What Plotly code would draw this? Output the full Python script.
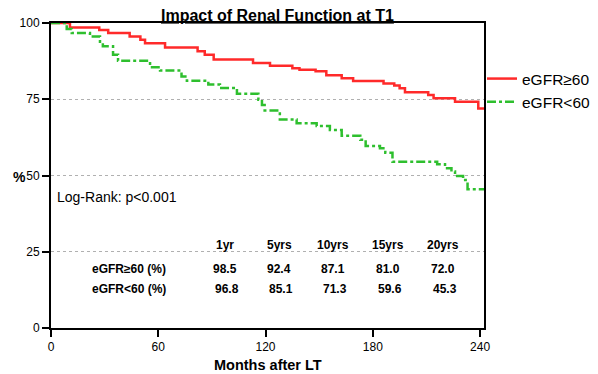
import plotly.graph_objects as go

# ---- data ----
red_name = "eGFR≥60"
red_months = [0, 10.6, 27, 32, 44, 50, 52.6, 63.8, 82, 86, 91, 113, 122.5, 135, 139, 148, 154,
              162.6, 169, 186, 192, 195, 198, 211, 214, 226, 239, 242.2]
red_surv = [100, 98.5, 97.7, 96.7, 95.6, 94.5, 93.4, 92.0, 90.7, 89.6, 88.0, 86.9, 86.0, 85.2, 84.7,
            84.2, 82.9, 81.9, 81.0, 80.2, 79.5, 78.6, 77.3, 76.4, 75.3, 74.2, 72.0, 72.0]

green_name = "eGFR<60"
green_months = [0, 8.8, 11.6, 21.8, 27.4, 29, 34.7, 37.5, 55.4, 61, 73, 76, 88, 94.5, 104, 116, 118,
                119.5, 128, 137.4, 148.6, 156, 162.6, 173, 176, 184, 187, 191, 216, 220.4, 224, 226,
                230.5, 233, 242.2]
green_surv = [100, 98.0, 96.7, 95.6, 93.4, 92.4, 89.6, 87.6, 85.5, 84.4, 82.5, 81.1, 79.8, 78.7, 76.8,
              74.8, 73.1, 71.3, 68.4, 67.1, 66.2, 64.9, 63.0, 61.7, 59.7, 58.9, 57.5, 54.5, 53.7, 52.4,
              51.3, 49.8, 48.5, 45.5, 45.5]

x_ticks = [0, 60, 120, 180, 240]
y_ticks = [0, 25, 50, 75, 100]

table_headers = ["1yr", "5yrs", "10yrs", "15yrs", "20yrs"]
table_row_labels = ["eGFR≥60 (%)", "eGFR<60 (%)"]
table_red = ["98.5", "92.4", "87.1", "81.0", "72.0"]
table_green = ["96.8", "85.1", "71.3", "59.6", "45.3"]

# ---- layout helpers (pixel -> paper of plot area) ----
L, R, T, B = 51, 484, 23, 328
W, H = 598, 374


def px(x):
    return (x - L) / (R - L)


def py(y):
    return (B - y) / (B - T)


fig = go.Figure()
fig.add_trace(go.Scatter(x=red_months, y=red_surv, mode="lines", name=red_name,
                         line=dict(color="#ff2a2a", width=2.5, shape="hv")))
fig.add_trace(go.Scatter(x=green_months, y=green_surv, mode="lines", name=green_name,
                         line=dict(color="#2ebf2e", width=2.5, shape="hv", dash="dashdot")))

fig.update_layout(
    width=W, height=H,
    margin=dict(l=L, r=W - R, t=T, b=H - B, autoexpand=False),
    plot_bgcolor="white", paper_bgcolor="white",
    font=dict(family="Arial", color="black", size=12),
    showlegend=True,
    legend=dict(xref="container", yref="container", x=482 / W, y=1 - 62 / H,
                xanchor="left", yanchor="top",
                font=dict(size=15.5), bgcolor="rgba(0,0,0,0)", tracegroupgap=0),
)
fig.update_xaxes(range=[0, 242.2], tickvals=x_ticks, ticks="outside", ticklen=7, tickwidth=1.5,
                 tickcolor="black", showline=True, linewidth=2, linecolor="black", mirror=True,
                 showgrid=False, zeroline=False, tickfont=dict(size=12))
fig.update_yaxes(range=[0, 100], tickvals=y_ticks, ticks="outside", ticklen=7, tickwidth=1.5,
                 tickcolor="black", showline=True, linewidth=2, linecolor="black", mirror=True,
                 showgrid=True, gridcolor="#b0b0b0", gridwidth=1, griddash="dot",
                 zeroline=False, tickfont=dict(size=12))

ann = []
ann.append(dict(x=px(277), y=py(15), text="<b>Impact of Renal Function at T1</b>",
                font=dict(size=16, lineposition="under")))
ann.append(dict(x=px(268), y=py(365), text="<b>Months after LT</b>", font=dict(size=14.5)))
ann.append(dict(x=px(19), y=py(177), text="<b>%</b>", font=dict(size=14)))
ann.append(dict(x=px(55), y=py(197), text="Log-Rank: p<0.001", xanchor="left", font=dict(size=14)))

col_x = [225, 279, 333, 388, 443]
for cx, h in zip(col_x, table_headers):
    ann.append(dict(x=px(cx), y=py(245), text=f"<b>{h}</b>", font=dict(size=12)))
ann.append(dict(x=px(168), y=py(269), text=f"<b>{table_row_labels[0]}</b>", xanchor="right",
                font=dict(size=12)))
ann.append(dict(x=px(168), y=py(289), text=f"<b>{table_row_labels[1]}</b>", xanchor="right",
                font=dict(size=12)))
for cx, v in zip(col_x, table_red):
    ann.append(dict(x=px(cx), y=py(269), text=f"<b>{v}</b>", font=dict(size=12)))
for cx, v in zip([c + 2 for c in col_x], table_green):
    ann.append(dict(x=px(cx), y=py(289), text=f"<b>{v}</b>", font=dict(size=12)))

for a in ann:
    a.setdefault("xanchor", "center")
    a.update(xref="paper", yref="paper", yanchor="middle", showarrow=False)
fig.update_layout(annotations=ann)

fig.write_html("out.html")
